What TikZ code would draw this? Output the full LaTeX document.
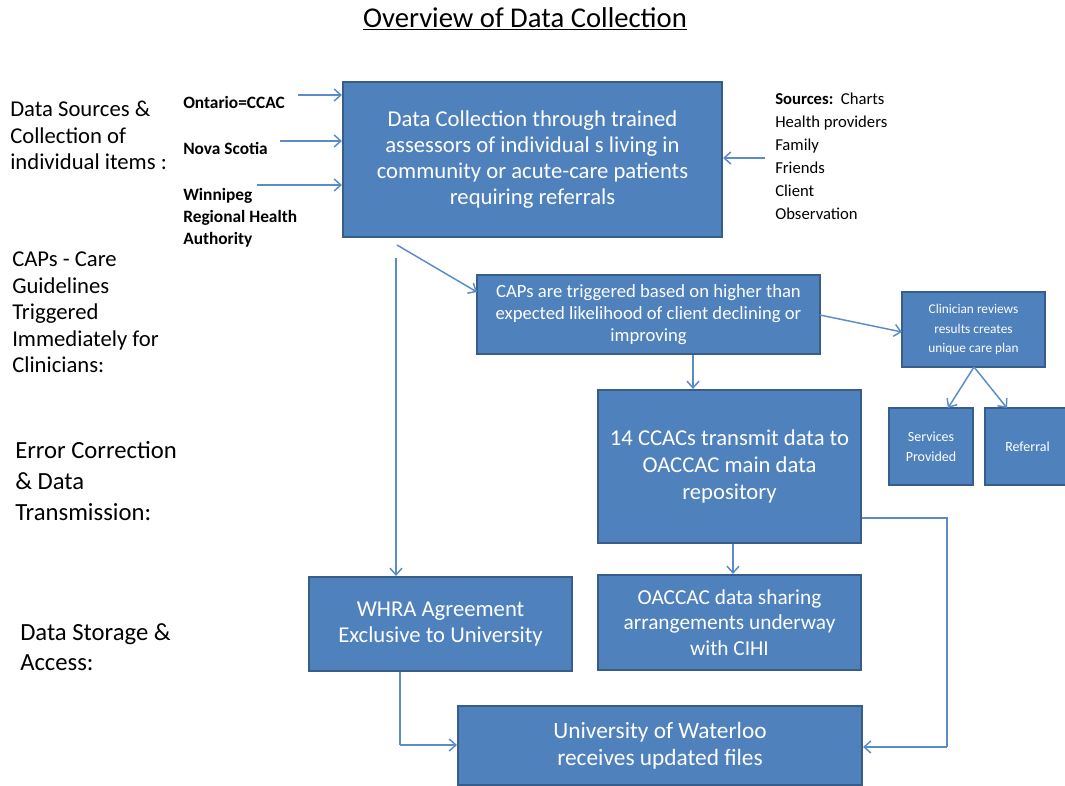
\documentclass[tikz,border=0pt]{standalone}
\usepackage{fontspec}
\setmainfont{Carlito}
\usetikzlibrary{arrows.meta}
\definecolor{boxfill}{HTML}{4F81BD}
\definecolor{boxline}{HTML}{385D8A}
\definecolor{arrcol}{HTML}{5B8BC8}
\begin{document}
\begin{tikzpicture}[x=0.75pt,y=-0.75pt,
  box/.style={draw=boxline,line width=1.6pt,fill=boxfill,text=white,align=center,inner sep=2pt},
  arr/.style={draw=arrcol,line width=1.1pt,-{Straight Barb[length=5pt,width=9pt,line width=1.1pt]}},
  ln/.style={draw=arrcol,line width=1.1pt},
  lbl/.style={anchor=north west,align=left,inner sep=0pt,text=black},
  src/.style={anchor=west,align=left,inner sep=0pt,text=black,font=\fontsize{13pt}{16.5pt}\selectfont\bfseries}]
\useasboundingbox (0,0) rectangle (1065,786);
% title
\node[inner sep=0pt,font=\fontsize{21.5pt}{24pt}\selectfont] (title) at (525,19) {\underline{Overview of Data Collection}};
% left labels
\node[lbl,font=\fontsize{17pt}{19.8pt}\selectfont] (l1) at (10,101) {Data Sources \&\\Collection of\\individual items :};
\node[lbl,font=\fontsize{17pt}{19.8pt}\selectfont] (l2) at (12,252) {CAPs - Care\\Guidelines\\Triggered\\Immediately for\\Clinicians:};
\node[lbl,font=\fontsize{18.5pt}{23.2pt}\selectfont] (l3) at (15,441) {Error Correction\\\& Data\\Transmission:};
\node[lbl,font=\fontsize{18.5pt}{22.5pt}\selectfont] (l4) at (20,623) {Data Storage \&\\Access:};
% sources
\node[src] (ont) at (183,102) {Ontario=CCAC};
\node[src] (nova) at (183,148) {Nova Scotia};
\node[src,anchor=north west] (win) at (183,188) {Winnipeg\\Regional Health\\Authority};
\node[anchor=north west,align=left,inner sep=0pt,font=\fontsize{12.5pt}{17.2pt}\selectfont] (srcs) at (775,93) {\textbf{Sources:}\ \ Charts\\Health providers\\Family\\Friends\\Client\\Observation};
% boxes
\node[box,minimum width=379*0.75pt,minimum height=155*0.75pt,font=\fontsize{17pt}{19.5pt}\selectfont] (main) at (532.5,159.5) {Data Collection through trained\\assessors of individual s living in\\community or acute-care patients\\requiring referrals};
\node[box,minimum width=343*0.75pt,minimum height=79*0.75pt,font=\fontsize{14pt}{16.5pt}\selectfont] (caps) at (648.5,314.5) {CAPs are triggered based on higher than\\expected likelihood of client declining or\\improving};
\node[box,minimum width=143*0.75pt,minimum height=75*0.75pt,font=\fontsize{10pt}{14.6pt}\selectfont] (clin) at (973.5,329.5) {Clinician reviews\\results creates\\unique care plan};
\node[box,minimum width=84*0.75pt,minimum height=77*0.75pt,font=\fontsize{10.5pt}{15pt}\selectfont] (serv) at (931,446.5) {Services\\Provided};
\node[box,minimum width=85*0.75pt,minimum height=77*0.75pt,font=\fontsize{10.5pt}{15pt}\selectfont] (ref) at (1027.5,446.5) {Referral};
\node[box,minimum width=263*0.75pt,minimum height=153*0.75pt,font=\fontsize{17pt}{20pt}\selectfont] (ccac) at (729.5,466.5) {14 CCACs transmit data to\\OACCAC main data\\repository};
\node[box,minimum width=263*0.75pt,minimum height=95*0.75pt,font=\fontsize{16pt}{19.2pt}\selectfont] (oac) at (729.5,622.5) {OACCAC data sharing\\arrangements underway\\with CIHI};
\node[box,minimum width=263*0.75pt,minimum height=94*0.75pt,font=\fontsize{17pt}{19.5pt}\selectfont] (whra) at (440.5,624) {WHRA Agreement\\Exclusive to University};
\node[box,minimum width=404*0.75pt,minimum height=79*0.75pt,font=\fontsize{17.5pt}{20pt}\selectfont] (uw) at (660,745.5) {University of Waterloo\\receives updated files};
% coordinates
\coordinate (o1) at (298,95);
\coordinate (o2) at (280,141);
\coordinate (o3) at (257,185);
\coordinate (s1) at (765,158);
\coordinate (d1) at (397,245);
\coordinate (d2) at (477,292);
\coordinate (v1) at (396,258);
\coordinate (c1) at (693,314);
\coordinate (c2) at (733,466);
\coordinate (e1) at (862,518);
\coordinate (e2) at (947,518);
\coordinate (e3) at (947,747);
\coordinate (w1) at (400,745);
\coordinate (k1) at (820,315);
\coordinate (k2) at (902,332);
\coordinate (q1) at (974,367);
\coordinate (q2) at (948,408);
\coordinate (q3) at (1007,408);
% connectors
\draw[arr] (o1) -- (o1 -| main.west);
\draw[arr] (o2) -- (o2 -| main.west);
\draw[arr] (o3) -- (o3 -| main.west);
\draw[arr] (s1) -- (s1 -| main.east);
\draw[arr] (d1) -- (d2);
\draw[arr] (v1) -- (v1 |- whra.north);
\draw[arr] (c1 |- caps.south) -- (c1 |- ccac.north);
\draw[arr] (c2 |- ccac.south) -- (c2 |- oac.north);
\draw[arr] (k1) -- (k2);
\draw[arr] (q1) -- (q2);
\draw[arr] (q1) -- (q3);
\draw[ln] (e1) -- (e2) -- (e3);
\draw[arr] (e3) -- (e3 -| uw.east);
\draw[ln] (w1 |- whra.south) -- (w1);
\draw[arr] (w1) -- (w1 -| uw.west);
\end{tikzpicture}
\end{document}
